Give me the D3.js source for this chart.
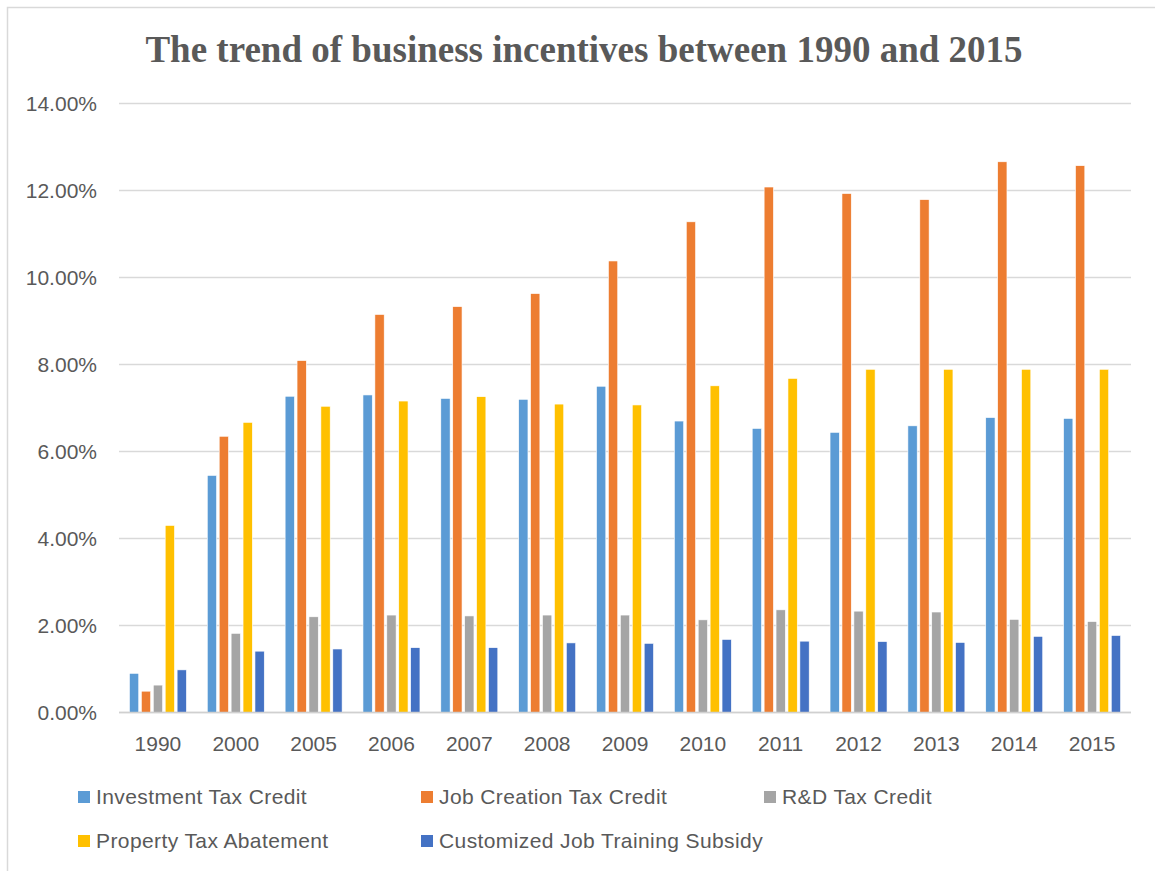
<!DOCTYPE html>
<html>
<head>
<meta charset="utf-8">
<script src="https://cdn.jsdelivr.net/npm/d3@7"></script>
<style>
  body { margin: 0; background: #fff; }
</style>
</head>
<body>
<script>
var CANVAS_WIDTH = 1155;
var CANVAS_HEIGHT = 871;

// data (percent)
var years = ["1990", "2000", "2005", "2006", "2007", "2008", "2009", "2010", "2011", "2012", "2013", "2014", "2015"];
var seriesNames = ["Investment Tax Credit", "Job Creation Tax Credit", "R&D Tax Credit",
                   "Property Tax Abatement", "Customized Job Training Subsidy"];
var seriesColors = ["#5b9bd5", "#ed7d31", "#a5a5a5", "#ffc000", "#4472c4"];
var investmentTaxCredit = [0.90, 5.45, 7.27, 7.30, 7.22, 7.20, 7.50, 6.70, 6.53, 6.44, 6.59, 6.78, 6.76];
var jobCreationTaxCredit = [0.49, 6.35, 8.09, 9.15, 9.33, 9.63, 10.38, 11.28, 12.08, 11.93, 11.79, 12.66, 12.57];
var rdTaxCredit = [0.63, 1.82, 2.20, 2.24, 2.22, 2.24, 2.24, 2.13, 2.36, 2.33, 2.31, 2.14, 2.09];
var propertyTaxAbatement = [4.30, 6.67, 7.04, 7.16, 7.26, 7.09, 7.07, 7.51, 7.68, 7.89, 7.89, 7.89, 7.89];
var customizedJobTraining = [0.98, 1.41, 1.46, 1.49, 1.49, 1.60, 1.59, 1.68, 1.64, 1.63, 1.61, 1.75, 1.77];
var yTicks = [0, 2, 4, 6, 8, 10, 12, 14];

var seriesValues = [investmentTaxCredit, jobCreationTaxCredit, rdTaxCredit, propertyTaxAbatement, customizedJobTraining];

var canvas = d3.select("body")
                .append("svg")
                .attr("width", CANVAS_WIDTH)
                .attr("height", CANVAS_HEIGHT);

var textFont = "'Liberation Sans', Arial, sans-serif";
var textColor = "#595959";

// chart frame (right and bottom edges fall off the picture)
canvas.append("rect")
    .attr("x", 7.5)
    .attr("y", 7.5)
    .attr("width", CANVAS_WIDTH + 20)
    .attr("height", CANVAS_HEIGHT + 20)
    .attr("fill", "none")
    .attr("stroke", "#d9d9d9")
    .attr("stroke-width", "1.5px");

canvas.append("text")
    .attr("x", 584)
    .attr("y", 62)
    .attr("text-anchor", "middle")
    .attr("font-family", "'Liberation Serif', 'Times New Roman', serif")
    .attr("font-weight", "bold")
    .attr("font-size", "37px")
    .attr("fill", textColor)
    .text("The trend of business incentives between 1990 and 2015");

var x0 = d3.scaleBand()
    .domain(years)
    .range([119, 1131])
    .paddingInner(0.268)
    .paddingOuter(0.134);

var x1 = d3.scaleBand()
    .domain(d3.range(seriesNames.length))
    .range([0, x0.bandwidth()])
    .paddingInner(0.22);

var y = d3.scaleLinear()
    .domain([0, 14])
    .range([712.5, 103.5]);

// gridlines
canvas.append("g")
    .selectAll("line")
    .data(yTicks)
    .join("line")
    .attr("x1", 119)
    .attr("x2", 1131)
    .attr("y1", d => y(d))
    .attr("y2", d => y(d))
    .attr("stroke", "#d9d9d9")
    .attr("stroke-width", "1.5px");

// y tick labels
canvas.append("g")
    .selectAll("text")
    .data(yTicks)
    .join("text")
    .attr("x", 97)
    .attr("y", d => y(d))
    .attr("dy", ".35em")
    .attr("text-anchor", "end")
    .attr("font-family", textFont)
    .attr("font-size", "21px")
    .attr("fill", textColor)
    .text(d => d3.format(".2f")(d) + "%");

// bars
var groups = canvas.append("g")
    .selectAll("g")
    .data(years)
    .join("g")
    .attr("transform", d => "translate(" + x0(d) + ",0)");

groups.selectAll("rect")
    .data((d, i) => seriesValues.map((vals, s) => ({ s: s, v: vals[i] })))
    .join("rect")
    .attr("x", d => x1(d.s))
    .attr("y", d => y(d.v))
    .attr("width", x1.bandwidth())
    .attr("height", d => y(0) - y(d.v))
    .attr("fill", d => seriesColors[d.s])
    .attr("stroke", "white")
    .attr("stroke-width", "0.6px");

// x axis line
canvas.append("line")
    .attr("x1", 119)
    .attr("x2", 1131)
    .attr("y1", y(0))
    .attr("y2", y(0))
    .attr("stroke", "#d0d0d0")
    .attr("stroke-width", "1.5px");

// x tick labels
canvas.append("g")
    .selectAll("text")
    .data(years)
    .join("text")
    .attr("x", d => x0(d) + x0.bandwidth() / 2)
    .attr("y", 744)
    .attr("dy", ".35em")
    .attr("text-anchor", "middle")
    .attr("font-family", textFont)
    .attr("font-size", "21px")
    .attr("fill", textColor)
    .text(d => d);

// legend
var legendX = [78, 421, 764];
var legendY = [797, 841];
var legend = canvas.append("g")
    .selectAll("g")
    .data(seriesNames)
    .join("g")
    .attr("transform", (d, i) => "translate(" + legendX[i % 3] + "," + legendY[Math.floor(i / 3)] + ")");

legend.append("rect")
    .attr("x", 0)
    .attr("y", -6)
    .attr("width", 12)
    .attr("height", 12)
    .attr("fill", (d, i) => seriesColors[i]);

legend.append("text")
    .attr("x", 18)
    .attr("y", 0)
    .attr("dy", ".35em")
    .attr("font-family", textFont)
    .attr("font-size", "21px")
    .attr("letter-spacing", "0.4px")
    .attr("fill", textColor)
    .text(d => d);
</script>
</body>
</html>
